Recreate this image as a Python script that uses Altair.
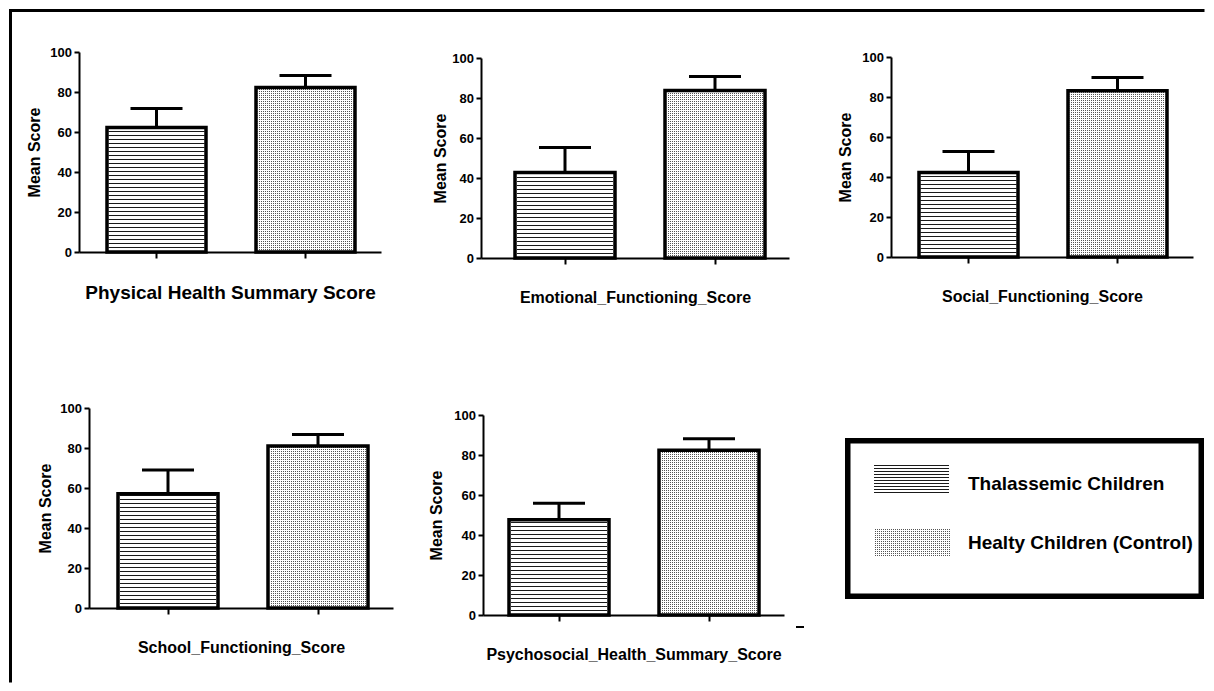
import altair as alt
import pandas as pd

# ---------------- data ----------------
panels = [
    "Physical Health Summary Score",
    "Emotional_Functioning_Score",
    "Social_Functioning_Score",
    "School_Functioning_Score",
    "Psychosocial_Health_Summary_Score",
]
groups = ["Thalassemic Children", "Healty Children (Control)"]
thal_mean = [62.2, 42.7, 42.3, 57.1, 47.6]
thal_sd = [9.5, 12.5, 10.5, 11.9, 8.3]
ctrl_mean = [82.2, 83.8, 83.1, 81.0, 82.4]
ctrl_sd = [6.1, 7.0, 6.6, 5.7, 5.7]
y_ticks = [0, 20, 40, 60, 80, 100]

FONT = "Liberation Sans"
DOT = "#555555"

# ---------------- layout / style (not data) ----------------
# cell width, left inset of the axis inside the cell, axis length, top inset
panel_cell_w = [302, 308, 302, 314, 303]
panel_left = [0, 0, 0, 10, 2]
panel_len = [302, 308, 302, 304, 301]
panel_top = [0, 6, 5, 0, 7]
panel_align = [0.52, 0.59, 0.52, 0.54, 0.51]
title_size = [19, 16, 16, 16, 16]
ytitle_pad = [7, 3, 8, 6, 9]

one = pd.DataFrame({"k": [0]})


def panel_df(i):
    return pd.DataFrame({
        "group": groups,
        "mean": [thal_mean[i], ctrl_mean[i]],
        "sd": [thal_sd[i], ctrl_sd[i]],
    })


def make_panel(i, extra=()):
    L = panel_left[i]
    W = panel_len[i]
    d = panel_top[i]
    H = 200 + d
    xs = alt.Scale(domain=groups, range=[L, L + W], paddingInner=1 / 3,
                   paddingOuter=(W - 250) / 300, align=panel_align[i],
                   round=True)
    ys = alt.Scale(domain=[0, 100], range=[H, d], nice=False, zero=True)
    xaxis = alt.Axis(labels=False, title=panels[i], titleFont=FONT,
                     titleFontSize=title_size[i], titleFontWeight="bold",
                     titleColor="black", titlePadding=24, tickSize=6,
                     tickWidth=2, tickColor="black", domainColor="black",
                     domainWidth=2, grid=False)
    yaxis = alt.Axis(values=y_ticks, title="Mean Score", titleFont=FONT,
                     titleFontSize=16, titleFontWeight="bold",
                     titleColor="black", titlePadding=ytitle_pad[i],
                     labelFont=FONT, labelFontSize=13, labelFontWeight="bold",
                     labelColor="black", labelPadding=2.5, tickSize=5,
                     tickWidth=2, tickColor="black", domainColor="black",
                     domainWidth=2, grid=False, offset=-L)

    def X(**kw):
        return alt.X("group:N", scale=xs, sort=groups, axis=xaxis, **kw)

    def Y(f):
        return alt.Y(f + ":Q", scale=ys, axis=yaxis)

    base = alt.Chart(panel_df(i)).transform_calculate(
        upper="datum.mean + datum.sd", mid="datum.mean / 2", base0="0")
    thal = base.transform_filter(alt.datum.group == groups[0])
    ctrl = base.transform_filter(alt.datum.group == groups[1])

    # horizontal hatch (stripes drawn from the baseline upward)
    hatch = thal.mark_rule(strokeWidth=96, strokeDash=[1, 3],
                           color="#1a1a1a").encode(x=X(), y=Y("base0"),
                                                   y2=alt.Y2("mean"))
    # stipple = horizontal stripes cut by white vertical stripes
    dots_a = ctrl.mark_rule(strokeWidth=96, strokeDash=[1, 1],
                            color=DOT).encode(x=X(), y=Y("base0"),
                                              y2=alt.Y2("mean"))
    dots_b = ctrl.mark_rule(strokeDash=[1, 1], color="white",
                            clip=True).encode(
        x=X(bandPosition=0),
        x2=alt.X2("group", bandPosition=1),
        y=Y("mid"),
        size=alt.Size("mean:Q", scale=alt.Scale(domain=[0, 100], range=[0, 200]),
                      legend=None),
    )
    outline = base.mark_bar(fillOpacity=0, stroke="black",
                            strokeWidth=3.5).encode(x=X(), y=Y("mean"))
    err = base.mark_rule(strokeWidth=3, color="black").encode(
        x=X(), y=Y("mean"), y2="upper:Q")
    cap = base.mark_tick(thickness=3, size=52, color="black",
                         opacity=1).encode(x=X(), y=Y("upper"))
    layers = [hatch, dots_a, dots_b, outline, err, cap] + list(extra)
    return alt.layer(*layers).properties(width=panel_cell_w[i], height=H)


def spacer(w):
    return alt.Chart(one).mark_point(opacity=0).encode(
        x=alt.value(0), y=alt.value(0)).properties(width=w, height=1)


# outer frame (decoration) drawn from panel 1
frame_top = alt.Chart(one).mark_rule(strokeWidth=3, color="black",
                                     strokeCap="square").encode(
    x=alt.value(-68.5), x2=alt.value(1124), y=alt.value(-41.5))
frame_left = alt.Chart(one).mark_rule(strokeWidth=3, color="black",
                                      strokeCap="square").encode(
    x=alt.value(-68.5), y=alt.value(-41.5), y2=alt.value(629))
stray = alt.Chart(one).mark_rule(strokeWidth=2, color="black").encode(
    x=alt.value(315), x2=alt.value(323), y=alt.value(219))

p1 = make_panel(0, [frame_top, frame_left])
p2 = make_panel(1)
p3 = make_panel(2)
p4 = make_panel(3)
p5 = make_panel(4, [stray])

# ---------------- legend panel ----------------
ldf = pd.DataFrame({"group": groups})
ly = alt.Scale(domain=groups, range=[57, 149], paddingInner=0.5625,
               paddingOuter=0)


def LY(**kw):
    return alt.Y("group:N", scale=ly, sort=groups, axis=None, **kw)


lbase = alt.Chart(ldf)
lth = lbase.transform_filter(alt.datum.group == groups[0])
lct = lbase.transform_filter(alt.datum.group == groups[1])

box = alt.Chart(one).mark_rect(fillOpacity=0, stroke="black",
                               strokeWidth=5.5).encode(
    x=alt.value(-43.25), x2=alt.value(310.25),
    y=alt.value(32.75), y2=alt.value(188.25))
l_hatch = lth.mark_rule(strokeWidth=75, strokeDash=[1, 2],
                        color="#1a1a1a").encode(
    x=alt.value(20.5), y=LY(bandPosition=0),
    y2=alt.Y2("group", bandPosition=1))
l_dot_a = lct.mark_rule(strokeWidth=77, strokeDash=[1, 1],
                        color=DOT).encode(
    x=alt.value(21.5), y=LY(bandPosition=0),
    y2=alt.Y2("group", bandPosition=1))
l_dot_b = lct.mark_rule(strokeWidth=30, strokeDash=[1, 1],
                        color="white").encode(
    x=alt.value(-17), x2=alt.value(60), y=LY(bandPosition=0.5))
l_txt1 = lth.mark_text(align="left", baseline="middle", fontSize=19,
                       fontWeight="bold", font=FONT, color="black",
                       dy=5).encode(x=alt.value(77), y=LY(bandPosition=0.5),
                                    text="group:N")
l_txt2 = lct.mark_text(align="left", baseline="middle", fontSize=19,
                       fontWeight="bold", font=FONT, color="black",
                       dy=-0.5).encode(x=alt.value(77), y=LY(bandPosition=0.5),
                                       text="group:N")
legend = alt.layer(box, l_hatch, l_dot_a, l_dot_b, l_txt1, l_txt2).properties(
    width=302, height=200)

cells = [
    p1, spacer(88), p2, spacer(102), p3,
    p4, spacer(88), p5, spacer(102), legend,
]

chart = alt.concat(
    *cells,
    columns=5,
    spacing={"row": 150, "column": 0},
    bounds="flush",
    align="each",
    padding=0,
).configure(font=FONT, background="white").configure_view(stroke=None)

chart.save("out.html", embed_options={"renderer": "svg", "actions": False})
